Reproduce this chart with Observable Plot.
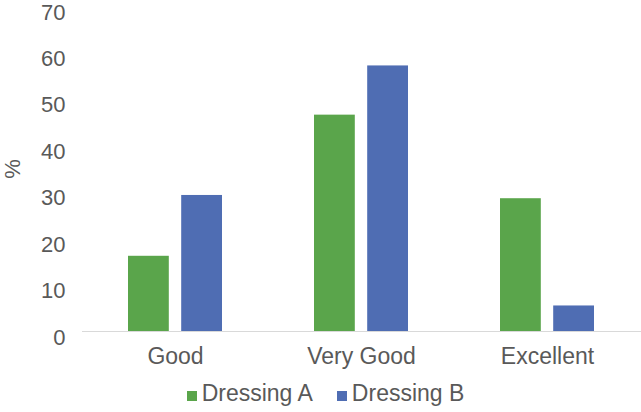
<!DOCTYPE html>
<html>
<head>
<meta charset="utf-8">
<script src="https://cdn.jsdelivr.net/npm/d3@7"></script>
<script src="https://cdn.jsdelivr.net/npm/@observablehq/plot@0.6"></script>
<style>
  html, body { margin: 0; padding: 0; background: #fff; }
  #chart { width: 641px; }
  .legend { display: flex; justify-content: center; align-items: baseline; height: 40px; padding-top: 8px; font-family: "Liberation Sans", Arial, sans-serif; font-size: 23px; color: #595959; padding-left: 10px; box-sizing: border-box; }
  .legend .item { display: flex; align-items: baseline; margin: 0 12px; }
  .legend .sw { display: inline-block; width: 10px; height: 10px; margin-right: 5px; }
</style>
</head>
<body>
<div id="chart"></div>
<script>
const categories = ["Good", "Very Good", "Excellent"];
const seriesNames = ["Dressing A", "Dressing B"];
const dressingA = [16.2, 46.6, 28.6];
const dressingB = [29.3, 57.2, 5.5];
const seriesColors = ["#5aa54b", "#4f6db3"];
const yTicks = [0, 10, 20, 30, 40, 50, 60, 70];
const yLabel = "%";

const dataA = categories.map((c, i) => ({category: c, series: seriesNames[0], value: dressingA[i]}));
const dataB = categories.map((c, i) => ({category: c, series: seriesNames[1], value: dressingB[i]}));

const textColor = "#595959";
const plot = Plot.plot({
  width: 641,
  height: 372,
  marginLeft: 82,
  marginRight: 0,
  marginTop: 6,
  marginBottom: 41,
  style: {fontFamily: "'Liberation Sans', Arial, sans-serif", fontSize: "22px", color: textColor, background: "#fff"},
  x: {domain: categories, paddingInner: 0.492, paddingOuter: 0.245, axis: null},
  y: {domain: [0, 70], axis: null},
  color: {domain: seriesNames, range: seriesColors},
  marks: [
    Plot.ruleY([0], {stroke: "#d9d9d9", strokeWidth: 1}),
    Plot.barY(dataA, {x: "category", y: "value", fill: "series", insetLeft: 0, insetRight: 53.2}),
    Plot.barY(dataB, {x: "category", y: "value", fill: "series", insetLeft: 53.2, insetRight: 0}),
    Plot.axisY({ticks: yTicks, tickSize: 0, tickPadding: 17, dy: 6, fill: textColor, fontSize: 22,
      label: yLabel, labelAnchor: "center", labelOffset: 78, labelArrow: "none"}),
    Plot.axisX({tickSize: 0, tickPadding: 16, fill: textColor, fontSize: 23, label: null})
  ]
});
document.getElementById("chart").appendChild(plot);

const legend = document.createElement("div");
legend.className = "legend";
seriesNames.forEach((name, i) => {
  const item = document.createElement("div");
  item.className = "item";
  const sw = document.createElement("span");
  sw.className = "sw";
  sw.style.background = seriesColors[i];
  const t = document.createElement("span");
  t.textContent = name;
  item.appendChild(sw);
  item.appendChild(t);
  legend.appendChild(item);
});
document.getElementById("chart").appendChild(legend);
</script>
</body>
</html>
